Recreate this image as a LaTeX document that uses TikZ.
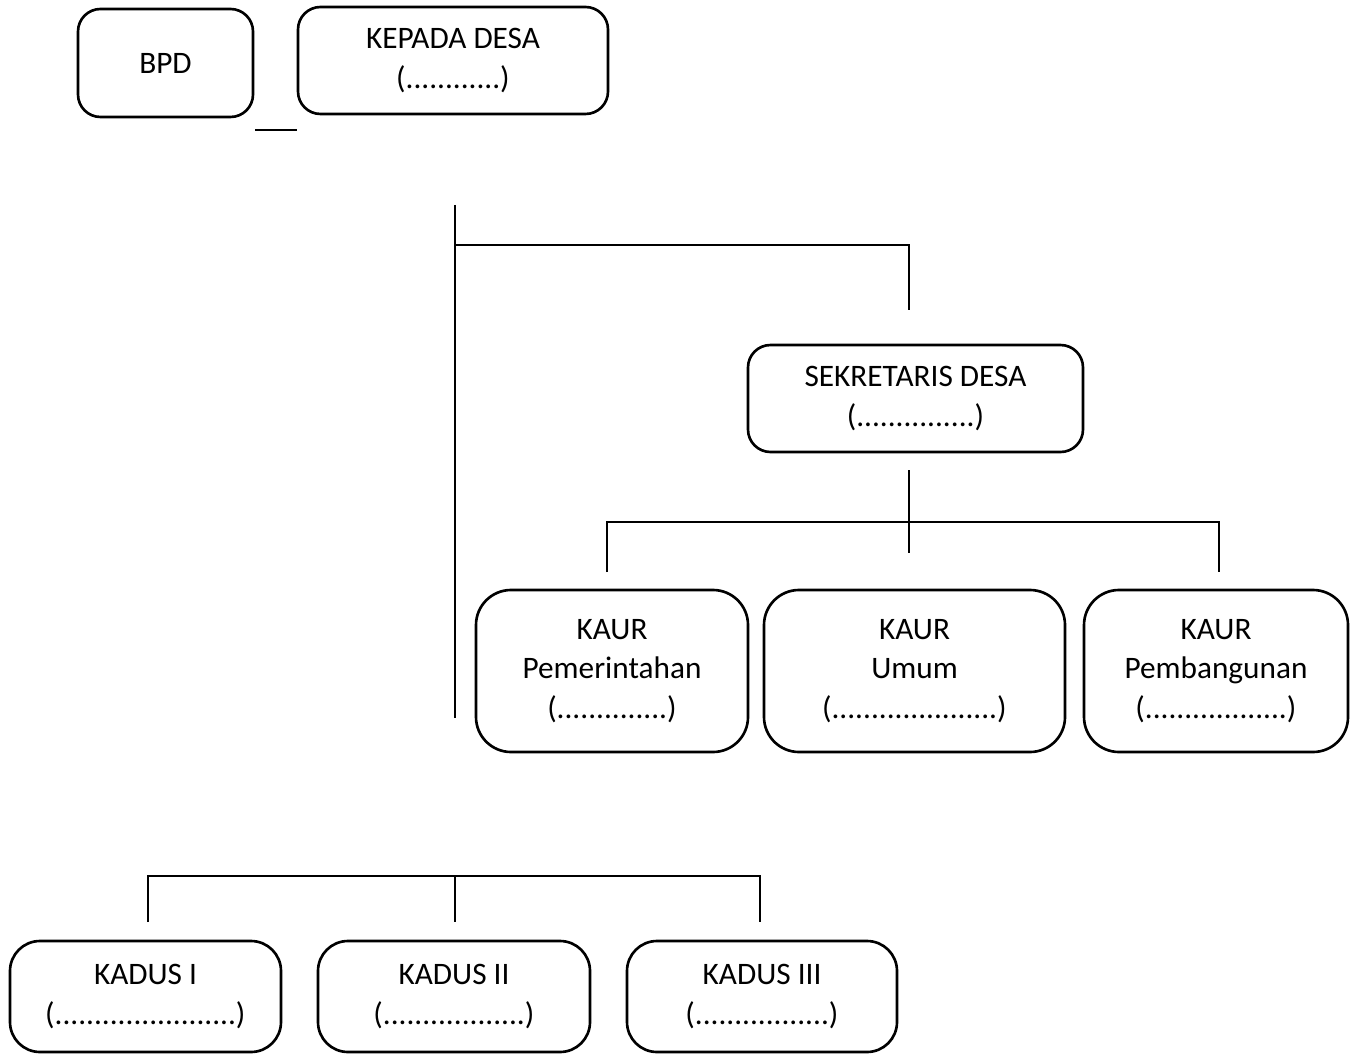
\documentclass[tikz,border=0pt]{standalone}
\usepackage{fontspec}
\setmainfont{Carlito}
\usepackage{tikz}
\pgfdeclarelayer{bg}
\pgfsetlayers{bg,main}
\tikzset{
  box/.style={draw, line width=1.5pt, rounded corners=0.45cm, align=center, inner sep=0pt,
    font=\fontsize{17.8pt}{22.4pt}\selectfont},
  link/.style={line width=1.6pt}
}

\begin{document}
\begin{tikzpicture}
        \useasboundingbox (0cm, 0cm) rectangle (27.000000cm, -21.080000cm);
        \node (bpd) [box, minimum width=3.50cm, minimum height=2.16cm] at (3.310000cm, -1.260000cm) {\raisebox{-3pt}{BPD}};
        \node (kades) [box, minimum width=6.20cm, minimum height=2.14cm] at (9.060000cm, -1.210000cm) {KEPADA DESA\\(............)};
        \node (sekdes) [box, minimum width=6.70cm, minimum height=2.14cm] at (18.310000cm, -7.970000cm) {SEKRETARIS DESA\\(...............)};
        \node (kaur1) [box, rounded corners=0.7cm, minimum width=5.44cm, minimum height=3.24cm] at (12.240000cm, -13.420000cm) {KAUR\\Pemerintahan\\(..............)};
        \node (kaur2) [box, rounded corners=0.7cm, minimum width=6.02cm, minimum height=3.24cm] at (18.290000cm, -13.420000cm) {KAUR\\Umum\\(.....................)};
        \node (kaur3) [box, rounded corners=0.7cm, minimum width=5.28cm, minimum height=3.24cm] at (24.320000cm, -13.420000cm) {KAUR\\Pembangunan\\(..................)};
        \node (kadus1) [box, rounded corners=0.6cm, minimum width=5.42cm, minimum height=2.22cm] at (2.910000cm, -19.930000cm) {KADUS I\\(.......................)};
        \node (kadus2) [box, rounded corners=0.6cm, minimum width=5.44cm, minimum height=2.22cm] at (9.080000cm, -19.930000cm) {KADUS II\\(..................)};
        \node (kadus3) [box, rounded corners=0.6cm, minimum width=5.40cm, minimum height=2.22cm] at (15.240000cm, -19.930000cm) {KADUS III\\(.................)};
        \coordinate (c0) at (5.100000cm, -2.600000cm);
        \coordinate (c1) at (5.940000cm, -2.600000cm);
        \coordinate (c2) at (9.100000cm, -4.100000cm);
        \coordinate (c3) at (9.100000cm, -14.360000cm);
        \coordinate (c4) at (9.100000cm, -4.900000cm);
        \coordinate (c5) at (18.180000cm, -4.900000cm);
        \coordinate (c6) at (18.180000cm, -6.200000cm);
        \coordinate (c7) at (18.180000cm, -9.400000cm);
        \coordinate (c8) at (18.180000cm, -11.060000cm);
        \coordinate (c9) at (12.140000cm, -11.440000cm);
        \coordinate (c10) at (12.140000cm, -10.440000cm);
        \coordinate (c11) at (24.380000cm, -10.440000cm);
        \coordinate (c12) at (24.380000cm, -11.440000cm);
        \coordinate (c13) at (2.960000cm, -18.440000cm);
        \coordinate (c14) at (2.960000cm, -17.520000cm);
        \coordinate (c15) at (15.200000cm, -17.520000cm);
        \coordinate (c16) at (15.200000cm, -18.440000cm);
        \coordinate (c17) at (9.100000cm, -17.520000cm);
        \coordinate (c18) at (9.100000cm, -18.440000cm);
        \begin{pgfonlayer}{bg}
                \draw[link] (c0) -- (c1);
                \draw[link] (c2) -- (c3);
                \draw[link] (c4) -- (c5) -- (c6);
                \draw[link] (c7) -- (c8);
                \draw[link] (c9) -- (c10) -- (c11) -- (c12);
                \draw[link] (c13) -- (c14) -- (c15) -- (c16);
                \draw[link] (c17) -- (c18);
        \end{pgfonlayer}
\end{tikzpicture}
\end{document}
